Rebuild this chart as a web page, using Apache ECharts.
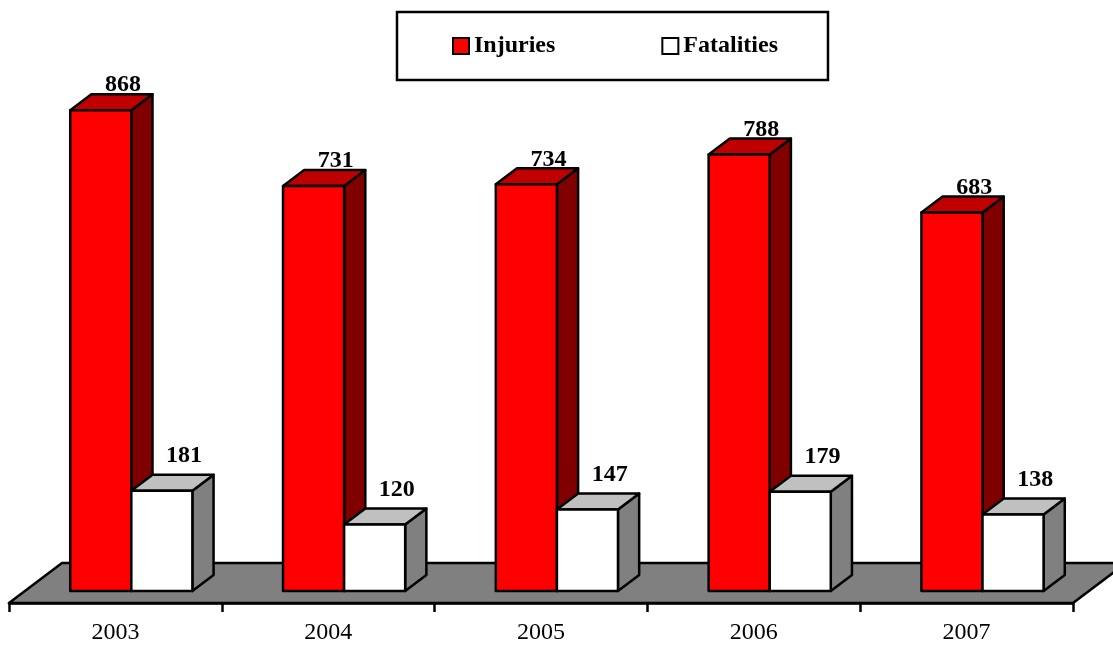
<!DOCTYPE html>
<html>
<head>
<meta charset="utf-8">
<script src="https://cdn.jsdelivr.net/npm/echarts@6/dist/echarts.min.js"></script>
<style>
  html, body { margin: 0; padding: 0; background: #ffffff; }
  #chart { width: 1113px; height: 646px; }
</style>
</head>
<body>
<div id="chart"></div>
<script>
// Yearly totals
const categories = ['2003', '2004', '2005', '2006', '2007'];
const injuries = [868, 731, 734, 788, 683];
const fatalities = [181, 120, 147, 179, 138];

// Oblique projection: full floor depth as a screen offset
const DEPTH = { x: 53, y: -40 };
const D_FRONT = 0.3;   // bar front plane (fraction of floor depth)
const D_BACK = 0.7;    // bar back plane
const BAR_FRAC = 0.287; // bar width as fraction of a category band
const SERIF = '"Liberation Serif", "Times New Roman", serif';
const EDGE = 2.5;

function boxRenderer(slot, colors, labelLift) {
  return function (params, api) {
    const i = api.value(0);
    const v = api.value(1);
    const base = api.coord([i, 0]);
    const top = api.coord([i, v]);
    const band = api.size([1, 0])[0];
    const w = band * BAR_FRAC;
    const fx = D_FRONT * DEPTH.x, fy = D_FRONT * DEPTH.y;
    const dx = (D_BACK - D_FRONT) * DEPTH.x, dy = (D_BACK - D_FRONT) * DEPTH.y;
    const x0 = base[0] - w + slot * w + fx;
    const x1 = x0 + w;
    const yb = base[1] + fy;
    const yt = top[1] + fy;
    const line = { stroke: '#000', lineWidth: EDGE, lineJoin: 'round' };
    return {
      type: 'group',
      children: [
        { type: 'polygon', shape: { points: [[x1, yb], [x1 + dx, yb + dy], [x1 + dx, yt + dy], [x1, yt]] },
          style: Object.assign({ fill: colors.side }, line) },
        { type: 'polygon', shape: { points: [[x0, yt], [x1, yt], [x1 + dx, yt + dy], [x0 + dx, yt + dy]] },
          style: Object.assign({ fill: colors.top }, line) },
        { type: 'rect', shape: { x: x0, y: yt, width: w, height: yb - yt },
          style: Object.assign({ fill: colors.front }, line) },
        { type: 'text', x: (x0 + x1) / 2 + dx + 1, y: yt + dy - labelLift,
          style: { text: String(v), font: 'bold 24px ' + SERIF, fill: '#000', align: 'center', verticalAlign: 'middle' } }
      ]
    };
  };
}

function floorRenderer(params, api) {
  const band = api.size([1, 0])[0];
  const left = api.coord([0, 0]);
  const right = api.coord([categories.length - 1, 0]);
  const xl = left[0] - band / 2, xr = right[0] + band / 2, y = left[1];
  return {
    type: 'polygon',
    shape: { points: [[xl, y], [xr, y], [xr + DEPTH.x, y + DEPTH.y], [xl + DEPTH.x, y + DEPTH.y]] },
    style: { fill: '#808080', stroke: '#000', lineWidth: EDGE, lineJoin: 'round' }
  };
}

const chart = echarts.init(document.getElementById('chart'), null, { renderer: 'canvas' });
chart.setOption({
  animation: false,
  backgroundColor: '#ffffff',
  grid: { left: 9, right: 40, top: 49, bottom: 43 },
  legend: {
    left: 397,
    top: 12,
    padding: [22, 50, 22, 55],
    borderColor: '#000',
    borderWidth: 2.5,
    itemGap: 106,
    itemWidth: 16,
    itemHeight: 16,
    icon: 'rect',
    textStyle: { fontFamily: SERIF, fontWeight: 'bold', fontSize: 24, color: '#000' },
    data: [
      { name: 'Injuries', itemStyle: { color: '#ff0000', borderColor: '#000', borderWidth: 2 } },
      { name: 'Fatalities', itemStyle: { color: '#ffffff', borderColor: '#000', borderWidth: 2 } }
    ]
  },
  xAxis: {
    type: 'category',
    data: categories,
    boundaryGap: true,
    axisLine: { lineStyle: { color: '#000', width: 2.5 } },
    axisTick: { show: true, length: 9, lineStyle: { color: '#000', width: 2.5 } },
    axisLabel: { fontFamily: SERIF, fontSize: 24, color: '#000', margin: 18 }
  },
  yAxis: { type: 'value', min: 0, max: 1000, show: false, splitLine: { show: false } },
  series: [
    { type: 'custom', name: 'floor', z: 1, data: [[0, 0]], renderItem: floorRenderer, silent: true },
    {
      type: 'custom', name: 'Injuries', z: 2,
      itemStyle: { color: '#ff0000' },
      data: injuries.map((v, i) => [i, v]),
      encode: { x: 0, y: 1 },
      renderItem: boxRenderer(0, { front: '#ff0000', side: '#800000', top: '#c00000' }, 9)
    },
    {
      type: 'custom', name: 'Fatalities', z: 3,
      itemStyle: { color: '#ffffff' },
      data: fatalities.map((v, i) => [i, v]),
      encode: { x: 0, y: 1 },
      renderItem: boxRenderer(1, { front: '#ffffff', side: '#808080', top: '#c0c0c0' }, 19)
    }
  ]
});
</script>
</body>
</html>
